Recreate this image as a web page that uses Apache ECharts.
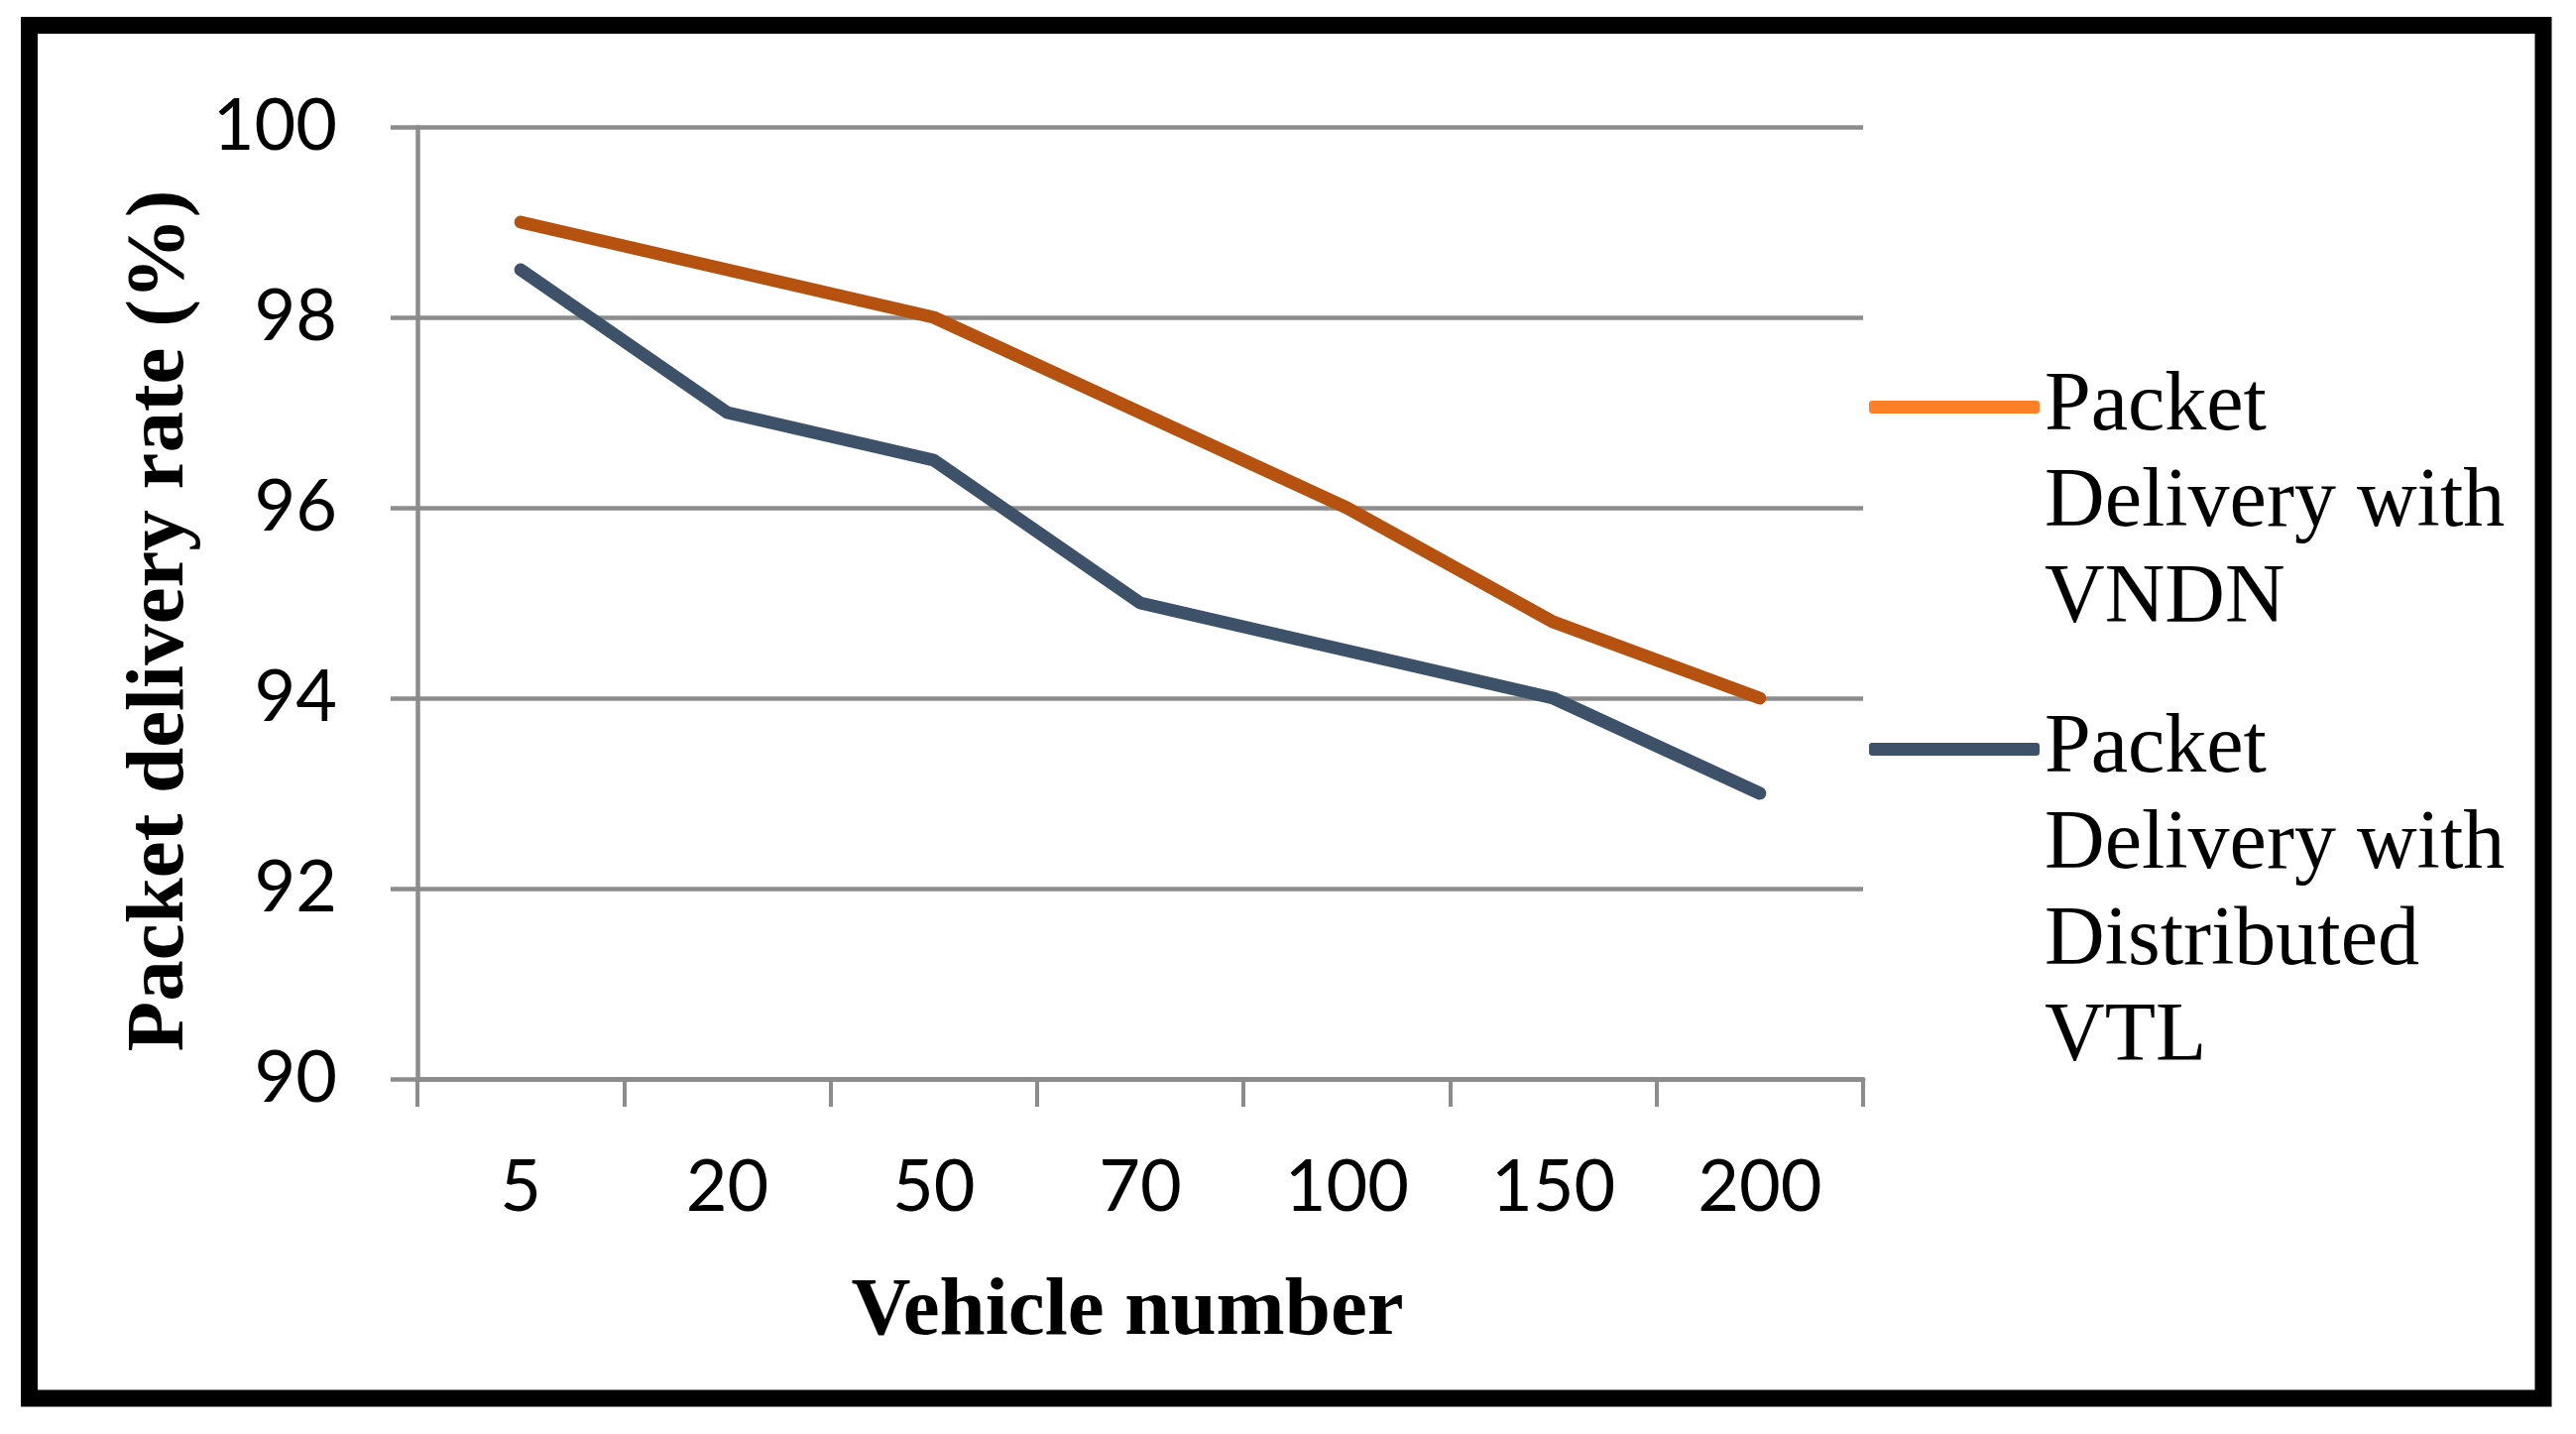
<!DOCTYPE html>
<html><head><meta charset="utf-8">
<script src="https://cdn.jsdelivr.net/npm/echarts@6/dist/echarts.min.js"></script>
<style>html,body{margin:0;padding:0;background:#fff;overflow:hidden}#c{width:2598px;height:1446px}</style>
</head><body><div id="c"></div>
<script>
const categories = ['5', '20', '50', '70', '100', '150', '200'];
const vndnValues = [99, 98.5, 98, 97, 96, 94.8, 94];
const vtlValues = [98.5, 97, 96.5, 95, 94.5, 94, 93];
const seriesNames = ['Packet\nDelivery with\nVNDN', 'Packet\nDelivery with\nDistributed\nVTL'];
const yMin = 90, yMax = 100, yStep = 2;

const gridColor = '#8c8c8c';
// Legend text is centred on its icon; pad with leading blank lines so the
// first text line sits level with the icon.
function legendLabel(name) {
  const below = name.split('\n').length - 1;
  return '\n'.repeat(below) + name;
}
const chart = echarts.init(document.getElementById('c'), null, {renderer: 'canvas'});
chart.setOption({
  backgroundColor: '#fff',
  animation: false,
  graphic: [{
    type: 'rect', z: 100,
    shape: {x: 29.5, y: 25.5, width: 2535.5, height: 1384.5},
    style: {fill: 'none', stroke: '#000', lineWidth: 17}
  }],
  grid: {left: 421, right: 719, top: 128, bottom: 358, containLabel: false},
  legend: {
    orient: 'vertical',
    left: 1885, top: 168,
    padding: 0,
    itemGap: -237,
    itemWidth: 172, itemHeight: 13,
    icon: 'roundRect',
    selectedMode: false,
    formatter: legendLabel,
    textStyle: {
      fontFamily: 'Liberation Serif', fontSize: 84, color: '#000',
      lineHeight: 97
    },
    data: [
      {name: seriesNames[0], itemStyle: {color: '#ff7f27'}},
      {name: seriesNames[1], itemStyle: {color: '#3d5168'}}
    ]
  },
  xAxis: {
    type: 'category',
    data: categories,
    boundaryGap: true,
    name: 'Vehicle number',
    nameLocation: 'middle',
    nameGap: 194,
    nameTextStyle: {fontFamily: 'Liberation Serif', fontWeight: 'bold', fontSize: 83, color: '#000', padding: [0, 26, 0, 0]},
    axisLine: {show: true, lineStyle: {color: gridColor, width: 5}},
    axisTick: {show: true, alignWithLabel: false, length: 28, lineStyle: {color: gridColor, width: 4}},
    axisLabel: {fontFamily: 'Lato', fontSize: 72, color: '#000', margin: 74},
    splitLine: {show: false}
  },
  yAxis: {
    type: 'value',
    min: yMin, max: yMax, interval: yStep,
    name: 'Packet delivery rate (%)',
    nameLocation: 'middle',
    nameGap: 206,
    nameTextStyle: {fontFamily: 'Liberation Serif', fontWeight: 'bold', fontSize: 83, color: '#000', padding: [0, 36, 0, 0]},
    axisLine: {show: true, lineStyle: {color: gridColor, width: 4.5}},
    axisTick: {show: true, length: 27, lineStyle: {color: gridColor, width: 4.5}},
    axisLabel: {fontFamily: 'Lato', fontSize: 72, color: '#000', margin: 81},
    splitLine: {show: true, lineStyle: {color: gridColor, width: 4.5}}
  },
  series: [
    {
      name: seriesNames[0], type: 'line', data: vndnValues,
      symbol: 'none', z: 3,
      lineStyle: {color: '#b5520f', width: 13, cap: 'round', join: 'round'},
      itemStyle: {color: '#b5520f'}
    },
    {
      name: seriesNames[1], type: 'line', data: vtlValues,
      symbol: 'none', z: 2,
      lineStyle: {color: '#3d5168', width: 13, cap: 'round', join: 'round'},
      itemStyle: {color: '#3d5168'}
    }
  ]
});
</script></body></html>
